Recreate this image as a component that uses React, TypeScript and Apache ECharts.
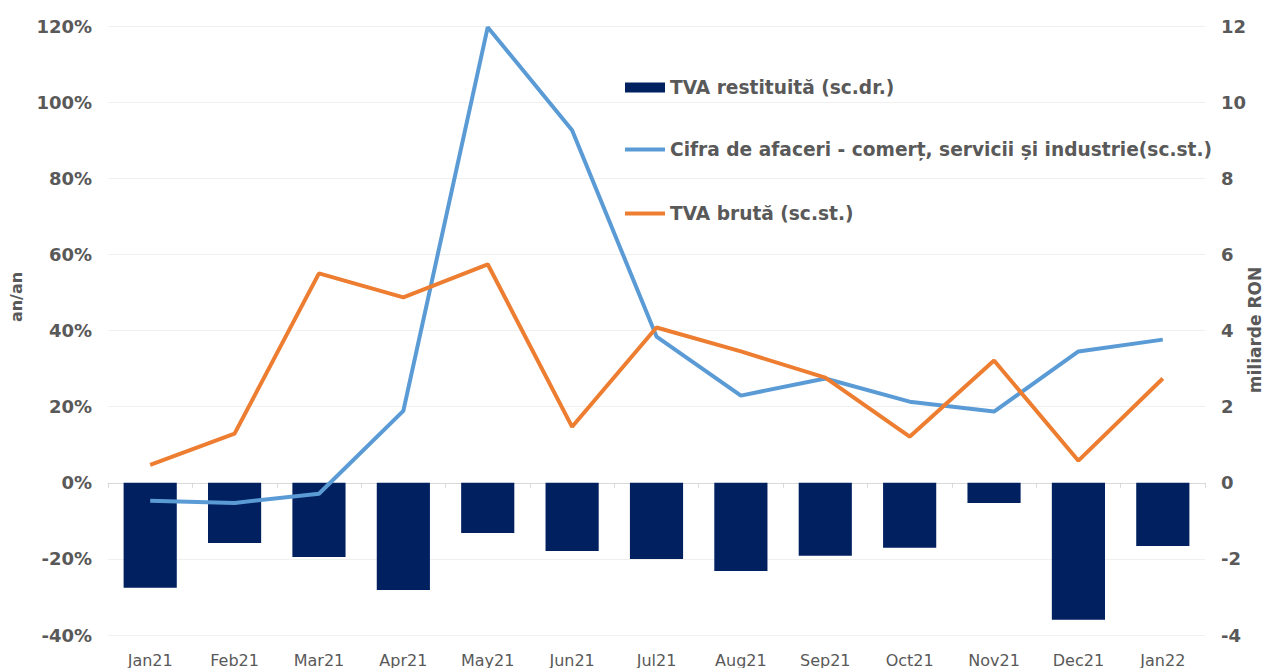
import React, { useEffect, useRef } from "react";
import * as echarts from "echarts";

const months = ["Jan21", "Feb21", "Mar21", "Apr21", "May21", "Jun21", "Jul21", "Aug21", "Sep21", "Oct21", "Nov21", "Dec21", "Jan22"];
const tvaRestituita = [-2.76, -1.58, -1.95, -2.82, -1.32, -1.79, -2.0, -2.32, -1.92, -1.71, -0.53, -3.6, -1.66];
const cifraAfaceri = [-4.7, -5.3, -2.9, 18.9, 119.7, 92.6, 38.4, 22.9, 27.4, 21.3, 18.7, 34.5, 37.6];
const tvaBruta = [4.7, 12.9, 55.0, 48.7, 57.4, 14.7, 40.8, 34.5, 27.6, 12.1, 32.1, 5.8, 27.4];

const NAME_BAR = "TVA restituită (sc.dr.)";
const NAME_BLUE = "Cifra de afaceri - comerț, servicii și industrie(sc.st.)";
const NAME_ORANGE = "TVA brută (sc.st.)";

const FONT = "'DejaVu Sans', Verdana, sans-serif";
const GREY = "#595959";

export default function App() {
  const ref = useRef<HTMLDivElement>(null);
  useEffect(() => {
    if (!ref.current) return;
    const chart = echarts.init(ref.current, null, { renderer: "svg" });
    const legendText = { color: GREY, fontSize: 18.6, fontWeight: "bold", fontFamily: FONT };
    chart.setOption({
      animation: false,
      backgroundColor: "#ffffff",
      textStyle: { fontFamily: FONT },
      grid: { left: 108, right: 61, top: 26, bottom: 33, containLabel: false },
      legend: [
        { data: [NAME_BAR], left: 625, top: 78, padding: 0, itemWidth: 40, itemHeight: 10, itemGap: 0, icon: "rect", textStyle: legendText },
        { data: [NAME_BLUE], left: 625, top: 140, padding: 0, itemWidth: 40, itemHeight: 4, itemGap: 0, icon: "rect", textStyle: legendText },
        { data: [NAME_ORANGE], left: 625, top: 204, padding: 0, itemWidth: 40, itemHeight: 4, itemGap: 0, icon: "rect", textStyle: legendText },
      ],
      xAxis: [
        {
          type: "category",
          data: months,
          position: "bottom",
          axisLine: { show: false, onZero: false },
          axisTick: { show: false },
          axisLabel: { color: GREY, fontSize: 16, margin: 17, fontFamily: FONT },
        },
        {
          type: "category",
          data: months,
          position: "bottom",
          axisLine: { show: true, onZero: true, onZeroAxisIndex: 0, lineStyle: { color: "#d9d9d9", width: 1 } },
          axisTick: { show: true, length: 5, lineStyle: { color: "#d9d9d9" } },
          axisLabel: { show: false },
        },
      ],
      yAxis: [
        {
          type: "value",
          min: -40,
          max: 120,
          interval: 20,
          axisLine: { show: false },
          axisTick: { show: false },
          splitLine: { lineStyle: { color: "#f0f0f0", width: 1 } },
          axisLabel: { formatter: "{value}%", color: GREY, fontSize: 18, fontWeight: "bold", margin: 16, fontFamily: FONT },
        },
        {
          type: "value",
          min: -4,
          max: 12,
          interval: 2,
          axisLine: { show: false },
          axisTick: { show: false },
          splitLine: { show: false },
          axisLabel: { color: GREY, fontSize: 18, fontWeight: "bold", margin: 16, fontFamily: FONT },
        },
      ],
      graphic: [
        { type: "text", x: 16, y: 297, rotation: Math.PI / 2, style: { text: "an/an", fill: GREY, font: `bold 16px ${FONT}`, align: "center", verticalAlign: "middle" } },
        { type: "text", x: 1255, y: 330, rotation: Math.PI / 2, style: { text: "miliarde RON", fill: GREY, font: `bold 17px ${FONT}`, align: "center", verticalAlign: "middle" } },
      ],
      series: [
        {
          name: NAME_BAR,
          type: "bar",
          xAxisIndex: 0,
          yAxisIndex: 1,
          data: tvaRestituita,
          barWidth: "63%",
          itemStyle: { color: "#002060" },
          z: 2,
        },
        {
          name: NAME_BLUE,
          type: "line",
          xAxisIndex: 0,
          yAxisIndex: 0,
          data: cifraAfaceri,
          showSymbol: false,
          symbol: "none",
          lineStyle: { color: "#5B9BD5", width: 4 },
          itemStyle: { color: "#5B9BD5" },
          z: 3,
        },
        {
          name: NAME_ORANGE,
          type: "line",
          xAxisIndex: 0,
          yAxisIndex: 0,
          data: tvaBruta,
          showSymbol: false,
          symbol: "none",
          lineStyle: { color: "#ED7D31", width: 4 },
          itemStyle: { color: "#ED7D31" },
          z: 4,
        },
      ],
    });
    return () => chart.dispose();
  }, []);
  return <div ref={ref} style={{ width: 1266, height: 668, position: "absolute", left: 0, top: 0 }} />;
}
